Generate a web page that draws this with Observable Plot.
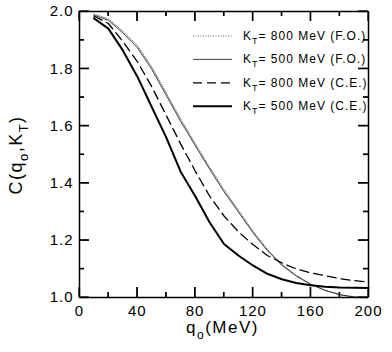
<!DOCTYPE html>
<html><head><meta charset="utf-8">
<script src="https://cdn.jsdelivr.net/npm/d3@7"></script>
<script src="https://cdn.jsdelivr.net/npm/@observablehq/plot@0.6"></script>
<style>
body{margin:0;background:#fff;}
#chart{position:relative;width:392px;height:352px;}
</style></head><body><div id="chart"></div>
<script>
// q0 values (MeV)
const q0 = [10,20,30,40,50,60,70,80,90,100,110,120,130,140,150,160,170,180,190,200];
// C(q0,KT) series
const fo800 = [1.991,1.974,1.931,1.881,1.806,1.715,1.624,1.539,1.456,1.377,1.305,1.232,1.168,1.116,1.077,1.047,1.025,1.010,1.001,0.999];
const fo500 = [1.987,1.969,1.925,1.874,1.798,1.707,1.616,1.532,1.449,1.370,1.299,1.227,1.164,1.113,1.075,1.046,1.025,1.010,1.002,1.000];
const ce800 = [1.984,1.958,1.895,1.825,1.737,1.637,1.537,1.443,1.355,1.285,1.230,1.185,1.147,1.121,1.100,1.086,1.076,1.066,1.059,1.054];
const ce500 = [1.976,1.940,1.864,1.773,1.666,1.560,1.440,1.355,1.263,1.187,1.147,1.112,1.083,1.064,1.051,1.043,1.038,1.035,1.034,1.033];
// legend
const legendKT = ["800","500","800","500"];
const legendModel = ["(F.O.)","(F.O.)","(C.E.)","(C.E.)"];
// ticks
const xMajor = [0,40,80,120,160,200];
const xMinor = [20,60,100,140,180];
const yMajor = [1.0,1.2,1.4,1.6,1.8,2.0];
const yMinor = [1.1,1.3,1.5,1.7,1.9];

const W = 392, H = 352, mL = 79, mR = 24, mT = 11, mB = 55;
const iw = W - mL - mR, ih = H - mT - mB;
const xDom = [0, 200], yDom = [1, 2];
const MAJ = 10, MIN = 5; // tick lengths (px)
const xLen = px => px / iw * (xDom[1] - xDom[0]);
const yLen = px => px / ih * (yDom[1] - yDom[0]);
const styles = [
  {stroke: "#666", strokeWidth: 1, strokeDasharray: "1,1.5"},
  {stroke: "#111", strokeWidth: 0.8},
  {stroke: "#000", strokeWidth: 1.3, strokeDasharray: "9,5"},
  {stroke: "#000", strokeWidth: 2}
];
const series = [fo800, fo500, ce800, ce500];
const lineMarks = series.map((s, k) =>
  Plot.line(q0.map((x, i) => ({q: x, c: s[i]})), {x: "q", y: "c", ...styles[k]})
);
const tk = {stroke: "#000", strokeWidth: 1.2};

const plot = Plot.plot({
  width: W, height: H,
  marginLeft: mL, marginRight: mR, marginTop: mT, marginBottom: mB,
  style: {fontFamily: "'Liberation Sans', Arial, sans-serif", letterSpacing: "1px", background: "#fff"},
  x: {domain: xDom},
  y: {domain: yDom},
  marks: [
    ...lineMarks,
    Plot.ruleX(xMajor, {x: d => d, y1: yDom[0], y2: yDom[0] + yLen(MAJ), ...tk}),
    Plot.ruleX(xMinor, {x: d => d, y1: yDom[0], y2: yDom[0] + yLen(MIN), ...tk}),
    Plot.ruleX(xMajor, {x: d => d, y1: yDom[1] - yLen(MAJ), y2: yDom[1], ...tk}),
    Plot.ruleX(xMinor, {x: d => d, y1: yDom[1] - yLen(MIN), y2: yDom[1], ...tk}),
    Plot.ruleY(yMajor, {y: d => d, x1: xDom[0], x2: xDom[0] + xLen(MAJ), ...tk}),
    Plot.ruleY(yMinor, {y: d => d, x1: xDom[0], x2: xDom[0] + xLen(MIN), ...tk}),
    Plot.ruleY(yMajor, {y: d => d, x1: xDom[1] - xLen(MAJ), x2: xDom[1], ...tk}),
    Plot.ruleY(yMinor, {y: d => d, x1: xDom[1] - xLen(MIN), x2: xDom[1], ...tk}),
    Plot.ruleX(xDom, {x: d => d, stroke: "#000", strokeWidth: 1.5}),
    Plot.ruleY(yDom, {y: d => d, stroke: "#000", strokeWidth: 1.5}),
    Plot.axisX(xMajor, {tickSize: 0, tickPadding: 8, fontSize: 15, tickFormat: d => String(d), label: null, fill: "#000"}),
    Plot.axisY(yMajor, {tickSize: 0, tickPadding: 6, fontSize: 15, tickFormat: d3.format(".1f"), label: null, fill: "#000"})
  ]
});
document.getElementById("chart").appendChild(plot);

const svg = d3.select(plot);
const xs = plot.scale("x"), ys = plot.scale("y");
const font = "'Liberation Sans', Arial, sans-serif";

// inward ticks on all four sides, positioned through Plot's scales
const tg = svg.append("g").attr("stroke", "#000").attr("stroke-width", 1.2);
const yb = ys.apply(yDom[0]), yt0 = ys.apply(yDom[1]);
const xl = xs.apply(xDom[0]), xr = xs.apply(xDom[1]);
[[xMajor, MAJ], [xMinor, MIN]].forEach(([vals, len]) => vals.forEach(v => {
  const x = xs.apply(v);
  tg.append("line").attr("x1", x).attr("x2", x).attr("y1", yb).attr("y2", yb - len);
  tg.append("line").attr("x1", x).attr("x2", x).attr("y1", yt0).attr("y2", yt0 + len);
}));
[[yMajor, MAJ], [yMinor, MIN]].forEach(([vals, len]) => vals.forEach(v => {
  const y = ys.apply(v);
  tg.append("line").attr("y1", y).attr("y2", y).attr("x1", xl).attr("x2", xl + len);
  tg.append("line").attr("y1", y).attr("y2", y).attr("x1", xr).attr("x2", xr - len);
}));

// x title
const xt = svg.append("text")
  .attr("x", xs.apply(100) - 1).attr("y", 333)
  .attr("text-anchor", "middle")
  .attr("font-family", font).attr("font-size", 17).attr("letter-spacing", "1.5px").attr("fill", "#000");
xt.append("tspan").text("q");
xt.append("tspan").attr("dy", 6).attr("font-size", 12).text("o");
xt.append("tspan").attr("dy", -6).text("(MeV)");

// y title
const yt = svg.append("text")
  .attr("transform", `translate(22,${ys.apply(1.5) + 1}) rotate(-90)`)
  .attr("text-anchor", "middle")
  .attr("font-family", font).attr("font-size", 18).attr("letter-spacing", "1.5px").attr("fill", "#000");
yt.append("tspan").text("C(q");
yt.append("tspan").attr("dy", 6).attr("font-size", 13).text("o");
yt.append("tspan").attr("dy", -6).text(",K");
yt.append("tspan").attr("dy", 6).attr("font-size", 13).text("T");
yt.append("tspan").attr("dy", -6).text(")");

// legend
const lg = svg.append("g");
const lx0 = 193, lx1 = 232, ltx = 243, ly0 = 36, lstep = 23.4;
legendKT.forEach((kt, i) => {
  const y = ly0 + i * lstep;
  const st = styles[i];
  lg.append("line").attr("x1", lx0).attr("x2", lx1).attr("y1", y).attr("y2", y)
    .attr("stroke", st.stroke).attr("stroke-width", st.strokeWidth)
    .attr("stroke-dasharray", st.strokeDasharray || null);
  const t = lg.append("text").attr("x", ltx).attr("y", y + 4).attr("text-anchor", "start")
    .attr("font-family", font).attr("font-size", 12).attr("letter-spacing", "1px").attr("fill", "#000");
  t.append("tspan").text("K");
  t.append("tspan").attr("dy", 4).attr("font-size", 9).text("T");
  t.append("tspan").attr("dy", -4).text(`= ${kt} MeV ${legendModel[i]}`);
});
</script></body></html>
